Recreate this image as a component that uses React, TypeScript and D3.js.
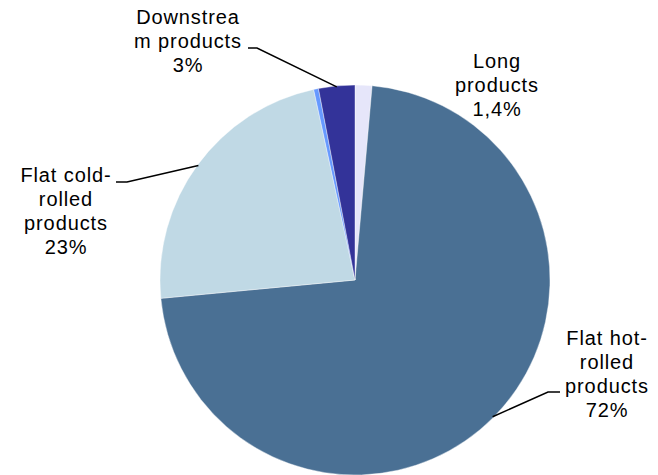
import React from "react";
import * as d3 from "d3";

const categories = ["Long products", "Flat hot-rolled products", "Flat cold-rolled products", "Other", "Downstream products"];
const values = [1.4, 72.1, 23.1, 0.4, 3.0];
const colors = ["#E6E6FA", "#4A7094", "#C0D9E5", "#6699FF", "#333399"];
const labelLines = [
  ["Long", "products", "1,4%"],
  ["Flat hot-", "rolled", "products", "72%"],
  ["Flat cold-", "rolled", "products", "23%"],
  [],
  ["Downstrea", "m products", "3%"],
];

// layout: label anchor (center x, first baseline), leader elbow & end of horizontal segment
const labelLayout = [
  { x: 497, y: 68, leader: null },
  { x: 607, y: 345, leader: { ex: 548, ey: 392, hx: 560 } },
  { x: 66, y: 182, leader: { ex: 127, ey: 182, hx: 116 } },
  null,
  { x: 188, y: 24, leader: { ex: 257, ey: 48, hx: 248 } },
];

const W = 658;
const H = 475;
const cx = 355;
const cy = 280;
const R = 195;
const LH = 24;

export default function App() {
  const pie = d3.pie<number>().sort(null).value((d) => d);
  const arcs = pie(values);
  const arc = d3.arc<d3.PieArcDatum<number>>().innerRadius(0).outerRadius(R);
  const edgeArc = d3.arc<d3.PieArcDatum<number>>().innerRadius(R * 2 - 2).outerRadius(0);

  return (
    <svg width={W} height={H} style={{ position: "absolute", left: 0, top: 0, background: "#fff" }}>
      <g transform={`translate(${cx},${cy})`}>
        {arcs.map((a, i) => (
          <path key={i} d={arc(a) || ""} fill={colors[i]} stroke="#fff" strokeWidth={0.4} />
        ))}
      </g>
      {arcs.map((a, i) => {
        const L = labelLayout[i];
        if (!L || !L.leader) return null;
        const mid = (a.startAngle + a.endAngle) / 2;
        const px = cx + Math.sin(mid) * (R - 1);
        const py = cy - Math.cos(mid) * (R - 1);
        return (
          <polyline
            key={"l" + i}
            points={`${px},${py} ${L.leader.ex},${L.leader.ey} ${L.leader.hx},${L.leader.ey}`}
            fill="none"
            stroke="#000"
            strokeWidth={1.5}
          />
        );
      })}
      {labelLines.map((lines, i) => {
        const L = labelLayout[i];
        if (!L) return null;
        return (
          <text
            key={"t" + i}
            textAnchor="middle"
            fontFamily="'Liberation Sans', Arial, sans-serif"
            fontSize={20}
            letterSpacing={0.9}
            fill="#000"
          >
            {lines.map((s, j) => (
              <tspan key={j} x={L.x} y={L.y + j * LH}>
                {s}
              </tspan>
            ))}
          </text>
        );
      })}
    </svg>
  );
}
